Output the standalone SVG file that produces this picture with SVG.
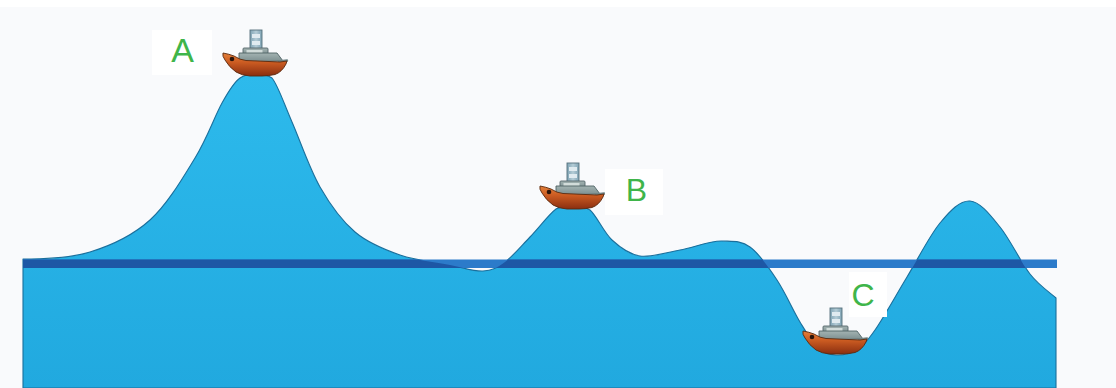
<svg xmlns="http://www.w3.org/2000/svg" xmlns:xlink="http://www.w3.org/1999/xlink" width="1116" height="388" viewBox="0 0 1116 388">
  <style>
    .label { font-family: "Liberation Sans", Arial, sans-serif; fill: #3fb54a; text-anchor: middle; }
    .label-box { fill: #ffffff; }
    .wave-edge { fill: none; stroke: #1a6f9c; stroke-width: 1.1; stroke-linejoin: round; }
    .boat-line { stroke-width: 0.9; }
  </style>
  <defs>
    <linearGradient id="water" x1="0" y1="0" x2="0" y2="1">
      <stop offset="0" stop-color="#2dbaec"/>
      <stop offset="1" stop-color="#21a9df"/>
    </linearGradient>
    <linearGradient id="hull" x1="0" y1="0" x2="0" y2="1">
      <stop offset="0" stop-color="#e3803a"/>
      <stop offset="0.4" stop-color="#cc5c22"/>
      <stop offset="1" stop-color="#8a2e10"/>
    </linearGradient>
    <linearGradient id="funnel" x1="0" y1="0" x2="1" y2="0">
      <stop offset="0" stop-color="#7fa3b4"/>
      <stop offset="0.5" stop-color="#b4ccd6"/>
      <stop offset="1" stop-color="#7fa3b4"/>
    </linearGradient>
    <linearGradient id="cabin" x1="0" y1="0" x2="0" y2="1">
      <stop offset="0" stop-color="#a3b3b2"/>
      <stop offset="1" stop-color="#7a8d8e"/>
    </linearGradient>

    <!-- sea surface: left flat, big crest, small crest, swell, deep trough, crest -->
    <path id="sea-shape" d="M23,388 L23,259
      C45,259 68.8,258.5 90,252
      C111.2,245.5 132.5,235.7 150,220
      C167.5,204.3 183,177.5 195,158
      C207,138.5 214.5,116.5 222,103
      C229.5,89.5 234.3,82 240,78
      C245.7,74 250.7,74 256,74
      C261.3,74 266,74 272,78
      C278,85.2 284,103.7 292,122
      C300,140.3 309.5,168.7 320,187
      C330.5,205.3 341.7,220.7 355,232
      C368.3,243.3 384.2,249.5 400,255
      C415.8,260.5 436.2,262.3 450,265
      C463.8,267.7 473.8,271.5 483,271
      C492.2,270.5 497.2,267.7 505,262
      C512.8,256.3 521.5,245.8 530,237
      C538.5,228.2 549,214.2 556,209
      C563,205 566.3,206 572,206
      C577.7,206 583.3,206 590,210
      C596.7,215.7 603.7,232.3 612,240
      C620.3,247.7 628.7,254.3 640,256
      C651.3,257.7 666.3,252.5 680,250
      C693.7,247.5 710.3,240.5 722,241
      C733.7,241.5 740.8,240.5 750,247
      C759.2,253.5 768.7,267.5 777,280
      C785.3,292.5 793.2,310.7 800,322
      C806.8,333.3 812,342.5 818,348
      C824,353.5 829.7,354.7 836,355
      C842.3,355.3 849.5,354.2 856,350
      C862.5,345.8 866.5,342.2 875,330
      C883.5,317.8 896.2,294.8 907,277
      C917.8,259.2 929.5,235.7 940,223
      C950.5,210.3 960,200.3 970,201
      C980,201.7 990,214.8 1000,227
      C1010,239.2 1020.7,262.2 1030,274
      C1039.3,285.8 1051.7,294 1056,298
      L1056,388 Z"/>

    <clipPath id="sea-clip">
      <use xlink:href="#sea-shape"/>
    </clipPath>

    <!-- small steamer, origin at the middle of the keel -->
    <g id="boat">
      <!-- funnel -->
      <rect x="-6" y="-47" width="12" height="20" fill="url(#funnel)" stroke="#56717d" class="boat-line"/>
      <rect x="-4" y="-43" width="8" height="4" fill="#e0ebf0"/>
      <rect x="-4" y="-36" width="8" height="4" fill="#e0ebf0"/>
      <!-- upper deckhouse -->
      <rect x="-13" y="-29" width="25" height="7.5" rx="1" fill="url(#cabin)" stroke="#55686b" class="boat-line"/>
      <rect x="-9.5" y="-27" width="16" height="3" fill="#d2dcda"/>
      <!-- lower deckhouse -->
      <path d="M-17,-15 L-17,-24 L21,-24 L27,-16 Z" fill="url(#cabin)" stroke="#4f6265" class="boat-line"/>
      <path d="M23,-15.5 L31,-16.5" stroke="#6f8587" stroke-width="2.4" stroke-linecap="round"/>
      <!-- hull -->
      <path d="M-33,-24 Q-27,-23 -22,-21 Q-16,-17 -10,-16.5 L24,-15 L31,-16 L30,-13
               Q26,-5 19,-2.5 Q12,-1 6,-1 L-6,-1 Q-14,-1.5 -20,-5 Q-27,-10 -31,-17 Q-34,-21 -33,-24 Z"
            fill="url(#hull)" stroke="#5a2a10" class="boat-line"/>
      <circle cx="-24" cy="-18" r="2.3" fill="#2b140a"/>
    </g>
  </defs>

  <!-- paper -->
  <rect x="0" y="0" width="1116" height="388" fill="#ffffff"/>
  <rect x="0" y="7" width="1116" height="381" fill="#f9fafc"/>

  <!-- water body -->
  <g id="sea">
    <use xlink:href="#sea-shape" fill="url(#water)"/>
    <use xlink:href="#sea-shape" class="wave-edge"/>
  </g>

  <!-- still-water level -->
  <g id="still-water-level">
    <rect x="23" y="259.5" width="1034" height="8.5" fill="#2c7bca"/>
    <rect x="23" y="259.5" width="1034" height="8.5" fill="#1d57a5" clip-path="url(#sea-clip)"/>
  </g>

  <!-- boats on crest, small crest and trough -->
  <g id="boat-a"><use xlink:href="#boat" x="256" y="77"/></g>
  <g id="boat-b"><use xlink:href="#boat" x="573" y="210"/></g>
  <g id="boat-c"><use xlink:href="#boat" x="836" y="355"/></g>

  <!-- letters -->
  <g id="label-a">
    <rect class="label-box" x="152" y="30" width="60" height="45"/>
    <text class="label" x="182.5" y="62" font-size="34">A</text>
  </g>
  <g id="label-b">
    <rect class="label-box" x="605" y="169" width="58" height="46"/>
    <text class="label" x="636.5" y="201" font-size="32">B</text>
  </g>
  <g id="label-c">
    <rect class="label-box" x="849" y="272" width="38" height="45"/>
    <text class="label" x="863" y="306" font-size="32">C</text>
  </g>
</svg>
